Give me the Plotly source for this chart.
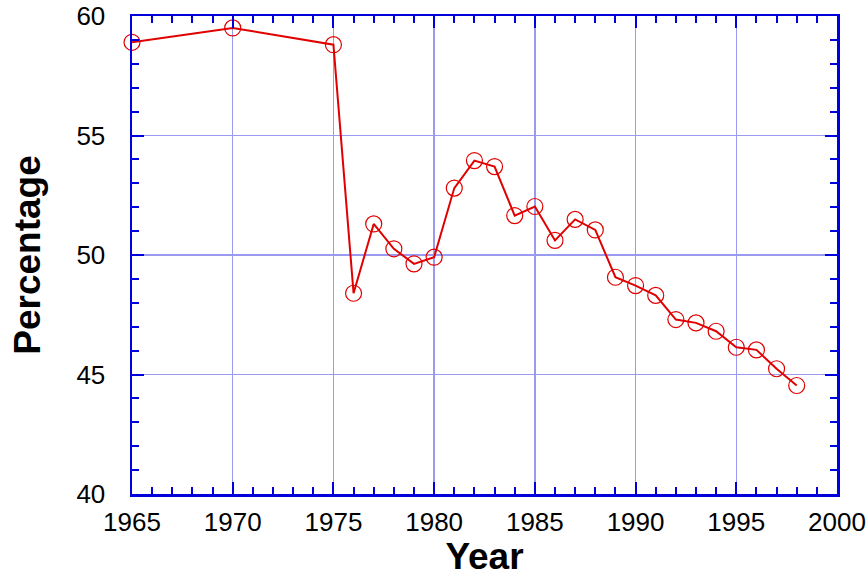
import plotly.graph_objects as go

years = [1965, 1970, 1975, 1976, 1977, 1978, 1979, 1980, 1981, 1982, 1983,
         1984, 1985, 1986, 1987, 1988, 1989, 1990, 1991, 1992, 1993, 1994,
         1995, 1996, 1997, 1998]
percentage = [58.9, 59.5, 58.8, 48.4, 51.3, 50.26, 49.63, 49.91, 52.8, 53.95, 53.7,
              51.65, 52.03, 50.61, 51.49, 51.05, 49.07, 48.72, 48.31, 47.3, 47.16, 46.81,
              46.14, 46.03, 45.24, 44.54]

x_ticks = [1965, 1970, 1975, 1980, 1985, 1990, 1995, 2000]
y_ticks = [40, 45, 50, 55, 60]

AXIS = "#0000DD"
GRID = "#9A9AF0"
RED = "#E00000"

fig = go.Figure()
fig.add_trace(go.Scatter(
    x=years, y=percentage, mode="lines+markers",
    line=dict(color=RED, width=2),
    marker=dict(symbol="circle-open", size=16, color=RED, line=dict(width=1.2)),
    showlegend=False, cliponaxis=False,
))

font_tick = dict(family="Liberation Sans, Arial, sans-serif", size=26, color="black")
font_title = dict(family="Liberation Sans, Arial, sans-serif", size=37, color="black")

fig.update_layout(
    width=867, height=577,
    margin=dict(l=132, r=30, t=16, b=83),
    paper_bgcolor="white", plot_bgcolor="white",
    xaxis=dict(
        range=[1965, 2000], tickvals=x_ticks, ticktext=[str(v) for v in x_ticks],
        showline=True, linecolor=AXIS, linewidth=2.5, mirror="allticks",
        ticks="inside", ticklen=12, tickwidth=2, tickcolor=AXIS,
        showgrid=True, gridcolor=GRID, gridwidth=1.3, zeroline=False,
        minor=dict(dtick=1, ticks="inside", ticklen=7, tickwidth=2, tickcolor=AXIS, showgrid=False),
        tickfont=font_tick, ticklabelstandoff=3, automargin=False,
        ticklabeloverflow="allow",
        title=dict(text="<b>Year</b>", font=font_title, standoff=8),
    ),
    yaxis=dict(
        range=[40, 60], tickvals=y_ticks, ticktext=[str(v) for v in y_ticks],
        showline=True, linecolor=AXIS, linewidth=2.5, mirror="allticks",
        ticks="inside", ticklen=12, tickwidth=2, tickcolor=AXIS,
        showgrid=True, gridcolor=GRID, gridwidth=1.3, zeroline=False,
        minor=dict(dtick=1, ticks="inside", ticklen=7, tickwidth=2, tickcolor=AXIS, showgrid=False),
        tickfont=font_tick, ticklabelstandoff=19, automargin=False,
        ticklabeloverflow="allow",
        title=dict(text="<b>Percentage</b>", font=font_title, standoff=25),
    ),
)

fig.write_html(
    "out.html",
    config={"displayModeBar": False, "staticPlot": True},
    post_script="document.body.style.margin='0';document.body.style.padding='0';"
                "document.body.style.overflow='hidden';",
)
